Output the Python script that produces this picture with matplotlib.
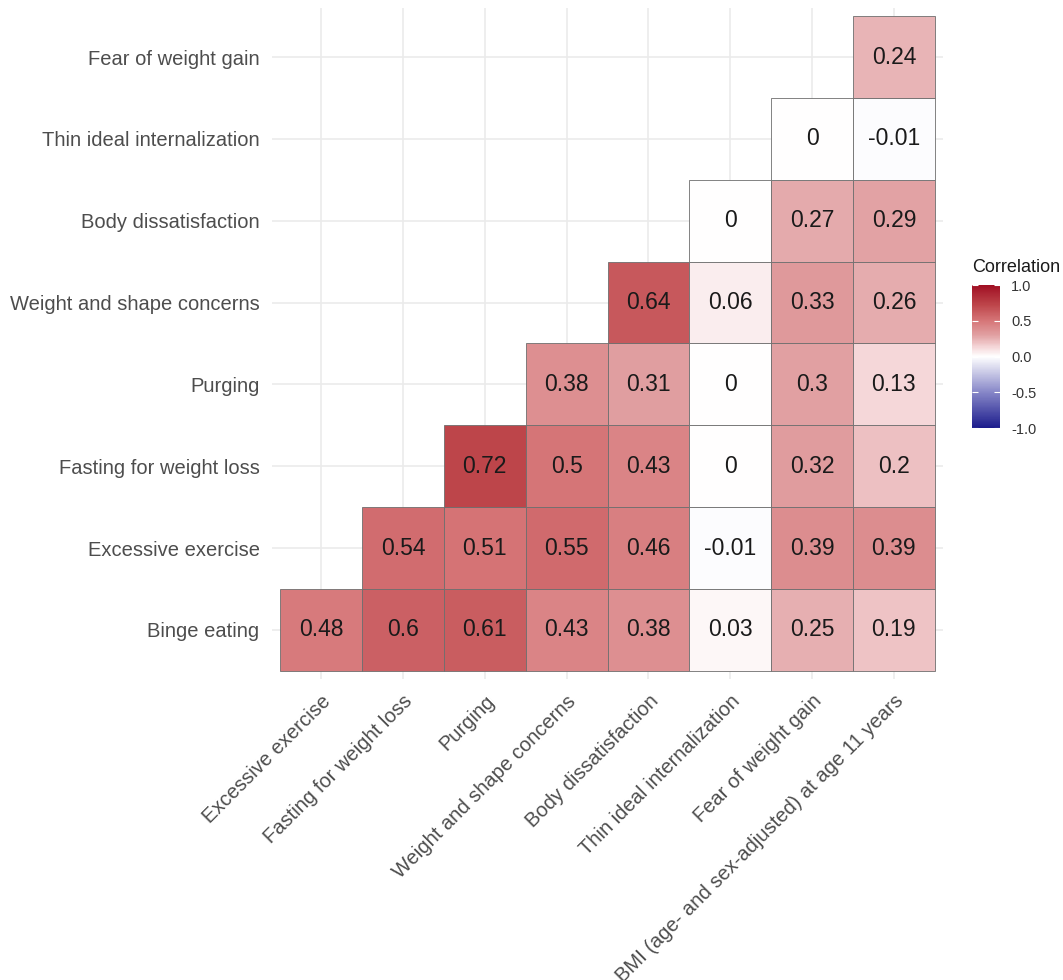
import numpy as np
import matplotlib
matplotlib.use("Agg")
import matplotlib.pyplot as plt
from matplotlib.colors import LinearSegmentedColormap, Normalize
from matplotlib.patches import Rectangle

plt.rcParams['font.family'] = ['Liberation Sans', 'DejaVu Sans']

# row labels, bottom to top
row_labels = ["Binge eating", "Excessive exercise", "Fasting for weight loss", "Purging",
              "Weight and shape concerns", "Body dissatisfaction",
              "Thin ideal internalization", "Fear of weight gain"]
# column labels, left to right
col_labels = ["Excessive exercise", "Fasting for weight loss", "Purging",
              "Weight and shape concerns", "Body dissatisfaction",
              "Thin ideal internalization", "Fear of weight gain",
              "BMI (age- and sex-adjusted) at age 11 years"]

# lower triangle values, row i starts at column i
binge = [0.48, 0.6, 0.61, 0.43, 0.38, 0.03, 0.25, 0.19]
exercise = [0.54, 0.51, 0.55, 0.46, -0.01, 0.39, 0.39]
fasting = [0.72, 0.5, 0.43, 0, 0.32, 0.2]
purging = [0.38, 0.31, 0, 0.3, 0.13]
concerns = [0.64, 0.06, 0.33, 0.26]
dissat = [0, 0.27, 0.29]
thin = [0, -0.01]
fear = [0.24]
rows = [binge, exercise, fasting, purging, concerns, dissat, thin, fear]

# colour scale (blue - white - red)
cmap = LinearSegmentedColormap.from_list("corr", [
    (0.0, (28/255, 28/255, 140/255)),
    (0.25, (135/255, 135/255, 200/255)),
    (0.5, (1, 1, 1)),
    (0.565, (245/255, 215/255, 217/255)),
    (0.65, (225/255, 160/255, 162/255)),
    (0.75, (214/255, 118/255, 120/255)),
    (0.86, (190/255, 70/255, 75/255)),
    (1.0, (160/255, 15/255, 35/255)),
])
norm = Normalize(-1, 1)

fig = plt.figure(figsize=(10.63, 9.80), dpi=100)
ax = fig.add_axes([272/1063, 1 - 679/980, 671/1063, 671/980])

for i, vals in enumerate(rows):
    for k, v in enumerate(vals):
        j = i + k
        ax.add_patch(Rectangle((j - 0.5, i - 0.5), 1, 1, facecolor=cmap(norm(v)),
                               edgecolor='#6e6e6e', linewidth=0.6, zorder=2))
        ax.text(j, i, f"{v:g}", ha='center', va='center', fontsize=16.5,
                color='#1a1a1a', zorder=3)

n = len(col_labels)
ax.set_xlim(-0.6, n - 0.4)
ax.set_ylim(-0.6, n - 0.4)
ax.set_xticks(range(n))
ax.set_yticks(range(n))
ax.set_xticklabels(col_labels, rotation=45, ha='right', va='top',
                   rotation_mode='anchor', fontsize=14.5, color='#4d4d4d')
ax.set_yticklabels(row_labels, fontsize=14.5, color='#4d4d4d')
ax.tick_params(length=0, pad=9)
ax.grid(True, color='#ebebeb', linewidth=1.2, zorder=0)
ax.set_axisbelow(True)
for s in ax.spines.values():
    s.set_visible(False)

# colourbar
cax = fig.add_axes([972/1063, 1 - 428/980, 28/1063, 143/980])
sm = plt.cm.ScalarMappable(norm=norm, cmap=cmap)
cb = fig.colorbar(sm, cax=cax, ticks=[-1, -0.5, 0, 0.5, 1])
cb.outline.set_visible(False)
cb.ax.set_yticklabels(["-1.0", "-0.5", "0.0", "0.5", "1.0"])
cb.ax.tick_params(direction='in', color='white', length=4, width=0.8,
                  left=True, right=True, labelsize=10.5, labelcolor='#333333', pad=8)
fig.text(972/1063, 1 - 268/980, "Correlation", fontsize=13, color='#1a1a1a',
         ha='left', va='center')

fig.savefig("out.png", dpi=100, facecolor='white')
